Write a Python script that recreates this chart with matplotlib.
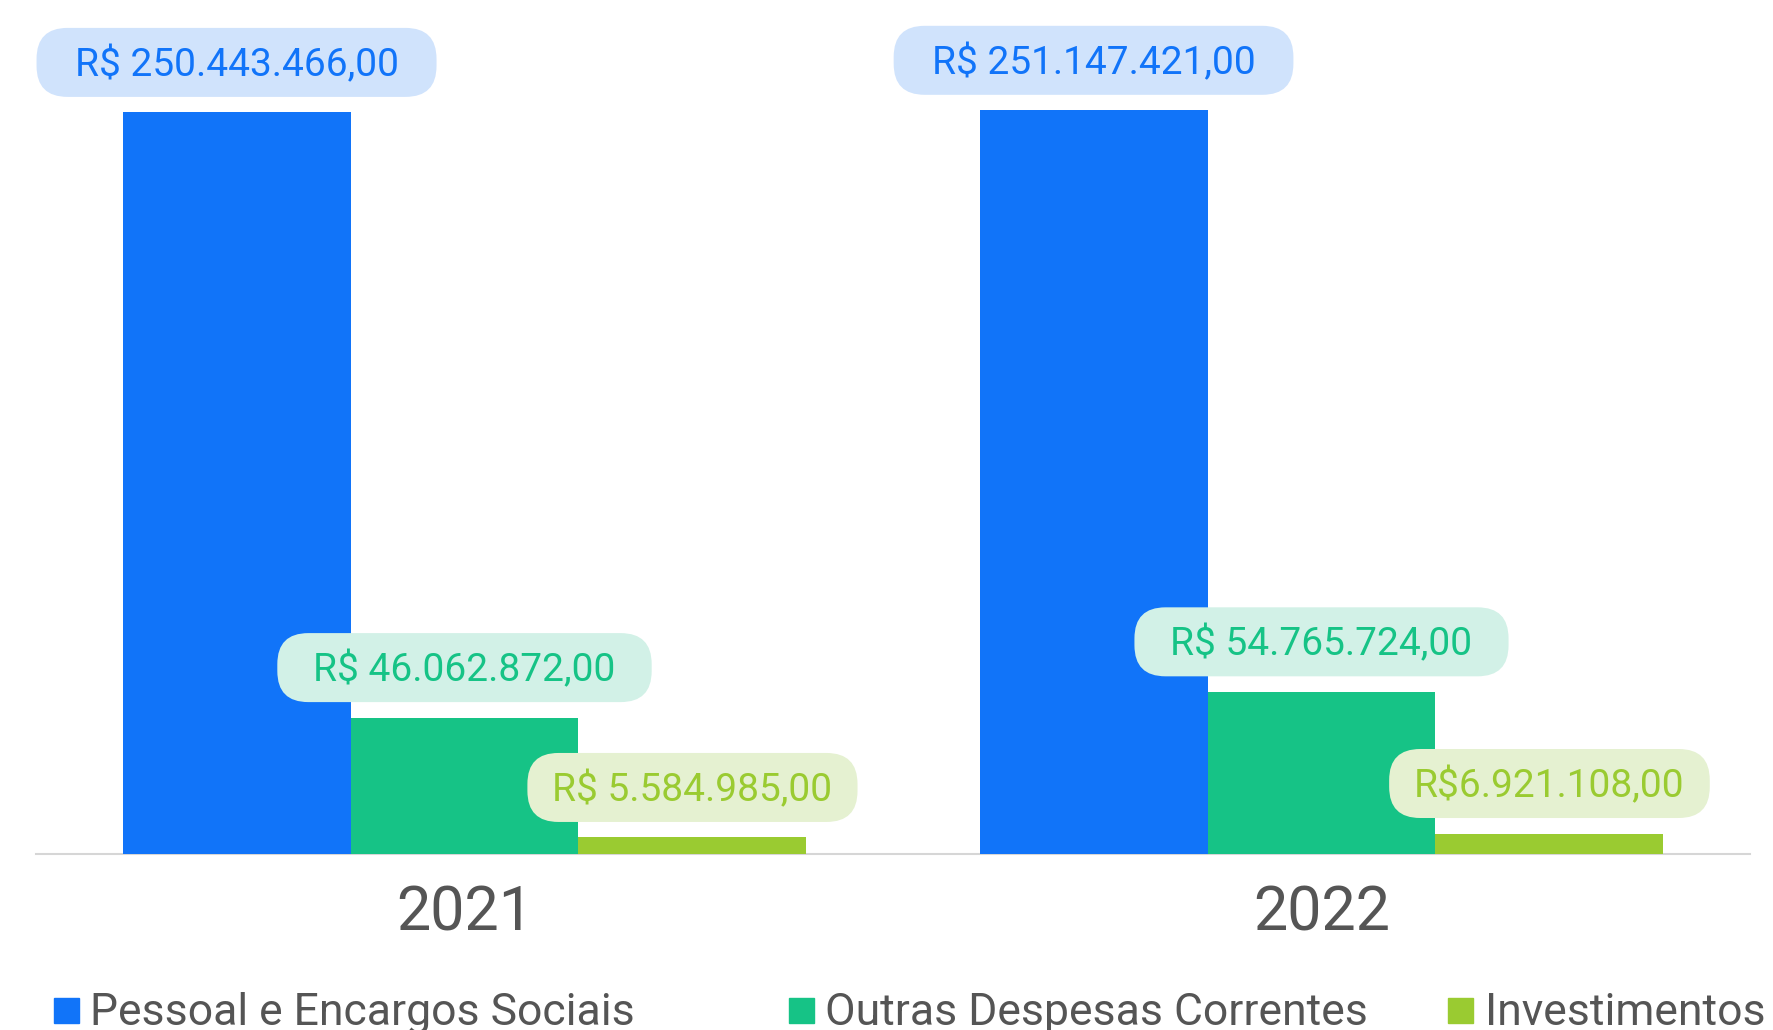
import numpy as np
import matplotlib
matplotlib.use("Agg")
import matplotlib.pyplot as plt
from matplotlib.patches import FancyBboxPatch, Rectangle
from matplotlib.transforms import IdentityTransform

plt.rcParams['font.family'] = ['Roboto', 'DejaVu Sans']

# dados
anos = ['2021', '2022']
categorias = ['Pessoal e Encargos Sociais', 'Outras Despesas Correntes', 'Investimentos']
pessoal = [250443466.00, 251147421.00]
outras = [46062872.00, 54765724.00]
investimentos = [5584985.00, 6921108.00]
rot_pessoal = ['R$ 250.443.466,00', 'R$ 251.147.421,00']
rot_outras = ['R$ 46.062.872,00', 'R$ 54.765.724,00']
rot_invest = ['R$ 5.584.985,00', 'R$6.921.108,00']

cores = ['#1174F9', '#16C386', '#9ACB31']
cores_fundo = ['#D0E3FC', '#D2F1E7', '#E5F1D1']
cinza = '#555555'
folga = [38, 36, 25]  # folga horizontal das caixas (px)

W, H = 1773, 1030
fig = plt.figure(figsize=(W / 100, H / 100), dpi=100)
ax = fig.add_axes([36 / W, (H - 854) / H, (1750 - 36) / W, 854 / H])

x = np.arange(len(anos))
larg = 0.266
series = [pessoal, outras, investimentos]
rotulos = [rot_pessoal, rot_outras, rot_invest]

for i, vals in enumerate(series):
    ax.bar(x + (i - 1) * larg, vals, larg, color=cores[i], zorder=2, linewidth=0)

ax.set_xlim(-0.5, 1.5)
ax.set_ylim(0, 2.884e8)
for s in ['top', 'left', 'right']:
    ax.spines[s].set_visible(False)
ax.spines['bottom'].set_color('#D6D6D6')
ax.spines['bottom'].set_linewidth(1.5)
ax.spines['bottom'].set_zorder(1)
ax.set_yticks([])
ax.set_xticks(x)
ax.set_xticklabels(anos)
ax.tick_params(axis='x', length=0, pad=22, labelsize=44, labelcolor=cinza)

# rótulos de valor
textos = []
for i, vals in enumerate(series):
    for j, v in enumerate(vals):
        xv = x[j] + (i - 1) * larg
        t = ax.annotate(rotulos[i][j], (xv, v), xytext=(0, 26), textcoords='offset points',
                        ha='center', va='baseline', fontsize=28, color=cores[i],
                        zorder=5, annotation_clip=False)
        textos.append((t, xv, v, i))

fig.canvas.draw()
for t, xv, v, i in textos:
    bb = t.get_window_extent()
    cx = (bb.x0 + bb.x1) / 2
    cy = ax.transData.transform((xv, v))[1] + 50
    w = bb.width + 2 * folga[i]
    caixa = FancyBboxPatch((cx - w / 2, cy - 34.5), w, 69,
                           boxstyle='round,pad=0,rounding_size=31',
                           transform=IdentityTransform(), facecolor=cores_fundo[i],
                           edgecolor='none', zorder=4, clip_on=False)
    ax.add_patch(caixa)

# legenda
leg_quad = [54, 789, 1448]
leg_txt = [90, 825, 1485]
for i, nome in enumerate(categorias):
    fig.add_artist(Rectangle((leg_quad[i] / W, 1 - 1023 / H), 25 / W, 25 / H,
                             transform=fig.transFigure, color=cores[i]))
    fig.text(leg_txt[i] / W, 1 - 1025 / H, nome, fontsize=32, color=cinza, va='baseline')

fig.savefig('out.png', dpi=100)
